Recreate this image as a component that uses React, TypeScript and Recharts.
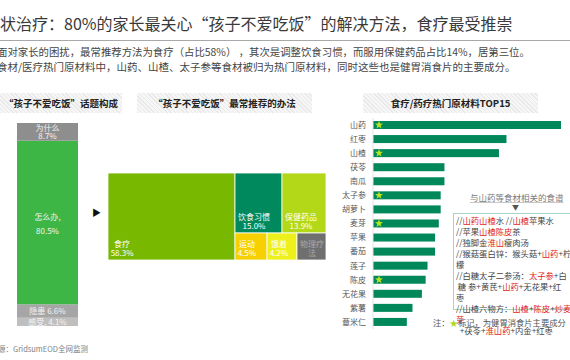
import React from 'react';
import { BarChart, Bar, XAxis, YAxis, Treemap, LabelList } from 'recharts';

const FONT = "'Noto Sans CJK SC', 'Noto Sans', sans-serif";

// "孩子不爱吃饭" 话题构成 (stack order: bottom -> top)
const topicNames = ['感受', '隐患', '怎么办', '为什么'];
const topicShares = [4.1, 6.6, 80.5, 8.7];
const topicColors = ['#bfbfbf', '#a6a6a6', '#3db645', '#8e8e8e'];

// 最常推荐的办法
const methodNames = ['食疗', '饮食习惯', '保健药品', '运动', '饿着', '物理疗法'];
const methodShares = [58.3, 15.0, 13.9, 4.5, 4.2, 4.1];
const methodColors = ['#79b800', '#00895c', '#b3d817', '#f6d000', '#eef01c', '#6f6f6f'];
const methodLabelColors = ['#ffffff', '#ffffff', '#ffffff', '#ffffff', '#ffffff', '#a9a9a9'];

// 热门原材料TOP15 (relative index, 山药 = 100)
const ingredientNames = ['山药', '红枣', '山楂', '茯苓', '南瓜', '太子参', '胡萝卜', '麦芽', '苹果', '番茄', '莲子', '陈皮', '无花果', '紫薯', '薏米仁'];
const ingredientIndex = [100, 71, 67, 38, 38, 36, 36, 35, 33, 33, 29, 28, 26, 21, 18];
const tabletIngredients = ['山药', '山楂', '太子参', '麦芽', '陈皮'];

// recipe lines, [text, highlighted]
const recipeLines: [string, boolean][][] = [
  [['//', false], ['山药山楂', true], ['水 //', false], ['山楂', true], ['苹果水', false]],
  [['//苹果', false], ['山楂陈皮', true], ['茶', false]],
  [['//独脚金', false], ['淮山', true], ['瘦肉汤', false]],
  [['//猴菇蛋白锌：猴头菇+', false], ['山药', true], ['+柠', false]],
  [['檬', false]],
  [['//白糖太子二参汤：', false], ['太子参', true], ['+白', false]],
  [['\u00a0糖 参+黄芪+', false], ['山药', true], ['+无花果+红', false]],
  [['枣', false]],
  [['//山楂六物方：', false], ['山楂', true], ['+', false], ['陈皮', true], ['+', false], ['炒麦', true]],
  [['芽', true]],
  [['\u00a0\u00a0+茯苓+', false], ['淮山药', true], ['+内金+红枣', false]],
];

const topicRow: Record<string, any> = { name: '话题' };
topicNames.forEach((n, i) => (topicRow[n] = topicShares[i]));
const topicTotal = topicShares.reduce((a, b) => a + b, 0);

const leaf = (i: number) => ({
  name: methodNames[i],
  value: methodShares[i],
  color: methodColors[i],
  labelColor: methodLabelColors[i],
});
const methodTree = [
  leaf(0),
  {
    name: '其他',
    children: [
      { name: '上', children: [leaf(1), leaf(2)] },
      { name: '下', children: [leaf(3), leaf(4), leaf(5)] },
    ],
  },
];

const ingredientData = ingredientNames.map((name, i) => ({
  name,
  value: ingredientIndex[i],
  tablet: tabletIngredients.includes(name),
}));

const textWidth = (s: string, fs: number) =>
  s.split('').reduce((w, c) => {
    if (/[0-9]/.test(c)) return w + fs * 0.55;
    if (c === '.') return w + fs * 0.28;
    if (c === '%') return w + fs * 0.85;
    return w + fs;
  }, 0);

function TreeCell(props: any) {
  const { x, y, width, height, name, value, color, labelColor } = props;
  if (!color) return <g />;
  const fs = 8;
  const maxChars = Math.floor((width - 4) / fs);
  const lines =
    name.length <= maxChars ? [name, `${Number(value).toFixed(1)}%`] : [name.slice(0, maxChars), name.slice(maxChars)];
  const blockW = Math.max(...lines.map((l: string) => textWidth(l, fs)));
  const cx = x + 3 + blockW / 2;
  const bottom = y + height;
  return (
    <g>
      <rect x={x} y={y} width={width} height={height} fill={color} stroke="#ffffff" strokeWidth={0.8} />
      <text x={cx} y={bottom - 13} textAnchor="middle" fontSize={fs} fill={labelColor} fontFamily={FONT}>
        {lines[0]}
      </text>
      <text x={cx} y={bottom - 4} textAnchor="middle" fontSize={fs} fill={labelColor} fontFamily={FONT}>
        {lines[1]}
      </text>
    </g>
  );
}

const topicLabel = (series: number) => (p: any) => {
  const { x, y, width, height, value } = p;
  const cx = x + width / 2;
  const cy = y + height / 2;
  const name = topicNames[series];
  const pct = `${Number(value).toFixed(1)}%`;
  const common = { textAnchor: 'middle' as const, fontSize: 8, fill: '#f4f4f4', fontFamily: FONT };
  if (name === '怎么办') {
    return (
      <g>
        <text x={cx} y={cy - 2} {...common}>{name},</text>
        <text x={cx} y={cy + 12} {...common}>{pct}</text>
      </g>
    );
  }
  if (name === '为什么') {
    return (
      <g>
        <text x={cx} y={cy - 1} {...common}>{name}</text>
        <text x={cx} y={cy + 7.5} {...common}>{pct}</text>
      </g>
    );
  }
  const sep = name === '感受' ? ', ' : ' ';
  return (
    <text x={cx} y={cy + 3} {...common}>
      {name}
      {sep}
      {pct}
    </text>
  );
};

function Star({ cx, cy, r, fill }: any) {
  const pts: string[] = [];
  for (let k = 0; k < 10; k++) {
    const a = (-90 + k * 36) * (Math.PI / 180);
    const rr = k % 2 === 0 ? r : r * 0.42;
    pts.push(`${cx + rr * Math.cos(a)},${cy + rr * Math.sin(a)}`);
  }
  return <polygon points={pts.join(' ')} fill={fill} />;
}

function IngredientBar(props: any) {
  const { x, y, width, height, payload } = props;
  return (
    <g>
      <rect x={x} y={y} width={width} height={height} fill="#00875a" />
      {payload.tablet && <Star cx={x + 6} cy={y + height / 2} r={4.2} fill="#b7e41f" />}
    </g>
  );
}

// full-width curly quotes
const Q = ({ c, align }: { c: string; align: 'left' | 'right' }) => (
  <span style={{ display: 'inline-block', width: '1em', textAlign: align }}>{c}</span>
);

const headerBox = (left: number, width: number, text: React.ReactNode) => (
  <div
    style={{
      position: 'absolute',
      left,
      top: 93,
      width,
      height: 20,
      lineHeight: '20px',
      textAlign: 'center',
      fontSize: 9.5,
      fontWeight: 700,
      color: '#222',
      background: 'repeating-linear-gradient(45deg, #e9e9e9 0 1px, #f6f6f6 1px 3px)',
      whiteSpace: 'nowrap',
    }}
  >
    {text}
  </div>
);

export default function App() {
  return (
    <div
      style={{
        position: 'absolute',
        left: 0,
        top: 0,
        width: 570,
        height: 360,
        overflow: 'hidden',
        background: '#ffffff',
        fontFamily: FONT,
      }}
    >
      <div style={{ position: 'absolute', left: 0, top: 11, fontSize: 16, lineHeight: '24px', color: '#3a3a3a', whiteSpace: 'nowrap' }}>
        状治疗：80%的家长最关心<Q c="“" align="right" />孩子不爱吃饭<Q c="”" align="left" />的解决方法，食疗最受推崇
      </div>
      <div style={{ position: 'absolute', left: 0, top: 40, width: 570, height: 1, background: '#a8a8a8' }} />
      <div style={{ position: 'absolute', left: -3, top: 45, lineHeight: '14.5px', color: '#444', whiteSpace: 'nowrap' }}>
        <div style={{ fontSize: 10.4 }}>面对家长的困扰，最常推荐方法为食疗（占比58%） ，其次是调整饮食习惯，而服用保健药品占比14%，居第三位。</div>
        <div style={{ fontSize: 10.5 }}>食材/医疗热门原材料中，山药、山楂、太子参等食材被归为热门原材料，同时这些也是健胃消食片的主要成分。</div>
      </div>

      {headerBox(0, 122, '“孩子不爱吃饭”话题构成')}
      {headerBox(137, 175, '“孩子不爱吃饭”最常推荐的办法')}
      {headerBox(363, 175, '食疗/药疗热门原材料TOP15')}

      {/* 话题构成 */}
      <div style={{ position: 'absolute', left: 17, top: 123 }}>
        <BarChart width={61} height={203} data={[topicRow]} margin={{ top: 0, right: 0, bottom: 0, left: 0 }} barCategoryGap={0}>
          <XAxis dataKey="name" hide />
          <YAxis type="number" domain={[0, topicTotal]} hide />
          {topicNames.map((n, i) => (
            <Bar key={n} dataKey={n} stackId="t" fill={topicColors[i]} isAnimationActive={false}>
              <LabelList dataKey={n} content={topicLabel(i)} />
            </Bar>
          ))}
        </BarChart>
      </div>

      <div style={{ position: 'absolute', left: 92, top: 206, fontSize: 9, color: '#111' }}>▶</div>

      {/* 推荐办法 */}
      <div style={{ position: 'absolute', left: 108, top: 173 }}>
        <Treemap
          width={218}
          height={87}
          data={methodTree}
          dataKey="value"
          aspectRatio={1.5736}
          isAnimationActive={false}
          content={<TreeCell />}
        />
      </div>

      {/* 原材料TOP15 */}
      <div style={{ position: 'absolute', left: 330, top: 110 }}>
        <BarChart
          width={240}
          height={230}
          data={ingredientData}
          layout="vertical"
          margin={{ top: 8, right: 9, bottom: 11, left: 0 }}
          barCategoryGap={0}
        >
          <XAxis type="number" domain={[0, 100]} hide />
          <YAxis
            type="category"
            dataKey="name"
            width={43}
            interval={0}
            tickLine={false}
            tickSize={5}
            tickMargin={2}
            axisLine={{ stroke: '#e3e3e3' }}
            tick={{ fontSize: 8, fill: '#595959', fontFamily: FONT }}
          />
          <Bar dataKey="value" barSize={8} shape={<IngredientBar />} isAnimationActive={false} />
        </BarChart>
      </div>

      <div
        style={{
          position: 'absolute',
          left: 470,
          top: 191,
          fontSize: 8.5,
          lineHeight: '12px',
          color: '#7a7a7a',
          textDecoration: 'underline',
          textDecorationColor: '#c8c8c8',
          whiteSpace: 'nowrap',
        }}
      >
        与山药等食材相关的食谱
      </div>
      <div style={{ position: 'absolute', left: 512, top: 202, fontSize: 7, lineHeight: '10px', color: '#555' }}>▼</div>

      <div
        style={{
          position: 'absolute',
          left: 453,
          top: 213,
          width: 130,
          height: 97,
          border: '1px solid #a9d6c1',
          boxSizing: 'border-box',
        }}
      />
      <div style={{ position: 'absolute', left: 456, top: 215, fontSize: 8.3, lineHeight: '11px', color: '#444', whiteSpace: 'nowrap' }}>
        {recipeLines.map((line, i) => (
          <div key={i}>
            {line.map(([t, hi], j) => (
              <span key={j} style={{ color: hi ? '#e02323' : '#444' }}>
                {t}
              </span>
            ))}
          </div>
        ))}
      </div>

      <div style={{ position: 'absolute', left: 433, top: 316, fontSize: 8.3, lineHeight: '12px', color: '#555', whiteSpace: 'nowrap' }}>
        注：<span style={{ color: '#a9d81c' }}>★</span>标记，为健胃消食片主要成分
      </div>

      <div style={{ position: 'absolute', left: -2, top: 343, fontSize: 7.5, lineHeight: '11px', color: '#808080', whiteSpace: 'nowrap' }}>
        源：GridsumEOD全网监测
      </div>
    </div>
  );
}
